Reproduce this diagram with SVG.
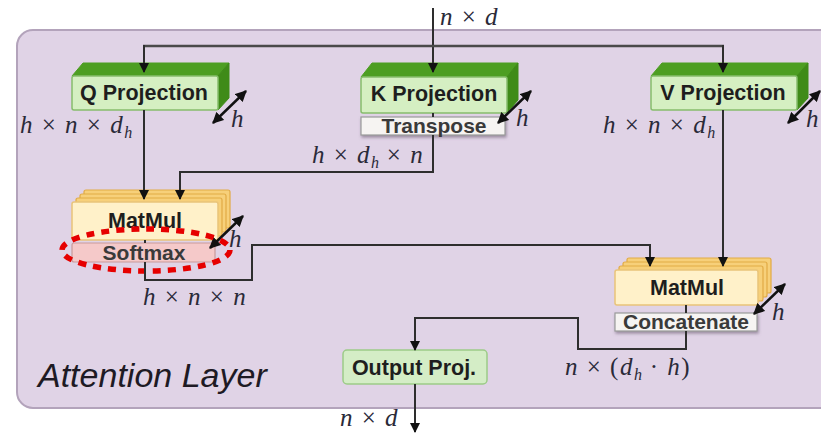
<svg xmlns="http://www.w3.org/2000/svg" width="821" height="433" viewBox="0 0 821 433">
  <defs>
    <marker id="tip" viewBox="0 0 10 10" refX="9" refY="5" markerWidth="11" markerHeight="10" orient="auto-start-reverse" markerUnits="userSpaceOnUse">
      <path d="M0,0 L10,5 L0,10 Z" fill="#111"/>
    </marker>
    <marker id="tip2" viewBox="0 0 10 10" refX="9" refY="5" markerWidth="4.5" markerHeight="4.5" orient="auto-start-reverse">
      <path d="M0,0 L10,5 L0,10 Z" fill="#111"/>
    </marker>
    <filter id="shadow" x="-10%" y="-30%" width="120%" height="180%">
      <feDropShadow dx="1" dy="2" stdDeviation="1.5" flood-color="#6a5a70" flood-opacity="0.6"/>
    </filter>
  </defs>
  <style>
    .lbl { font-family: "Liberation Sans", Arial, sans-serif; font-weight: bold; font-size: 21.5px; fill: #1e1e1e; text-anchor: middle; }
    .sub { font-family: "Liberation Sans", Arial, sans-serif; font-weight: bold; font-size: 21px; fill: #3a3a3a; text-anchor: middle; }
    .math { font-family: "Liberation Serif", "Times New Roman", serif; font-style: italic; font-size: 25px; fill: #2a2a38; letter-spacing: 1.5px; }
    .up { font-style: normal; }
    .s { font-size: 16px; letter-spacing: 0; }
    .wire { fill: none; stroke: #2e2e2e; stroke-width: 2; }
    .dim { fill: none; stroke: #111; stroke-width: 2.5; marker-start: url(#tip2); marker-end: url(#tip2); }
    .gfront { fill: #d5efc2; stroke: #86bd6c; stroke-width: 1.5; }
    .gtop { fill: #4d9e22; stroke: #4d9e22; stroke-width: 1; }
    .gside { fill: #3f8b18; stroke: #3f8b18; stroke-width: 1; }
    .ylayer { fill: #f7d07a; stroke: #e2ab45; stroke-width: 1.2; }
    .yfront { fill: #fff1c9; stroke: #e9c479; stroke-width: 1.5; }
    .tag { fill: #f6f4f2; stroke: #9a9a9a; stroke-width: 1.2; }
  </style>

  <!-- layer container -->
  <rect x="17" y="30" width="822" height="378" rx="16" fill="#e0d3e6" stroke="#b3a3bb" stroke-width="2"/>
  <text x="38" y="387" font-family="'Liberation Sans', Arial, sans-serif" font-style="italic" font-size="34" fill="#1e1a24">Attention Layer</text>

  <!-- Q Projection -->
  <g id="q-proj">
    <polygon class="gtop" points="72,76 83,63 229,63 218,76"/>
    <polygon class="gside" points="218,76 229,63 229,98 218,110"/>
    <rect class="gfront" x="72" y="76" width="146" height="34" rx="2"/>
    <text class="lbl" x="144" y="100">Q Projection</text>
    <line class="dim" x1="213" y1="123" x2="246" y2="91"/>
    <text class="math" x="231" y="127">h</text>
  </g>

  <!-- K Projection with Transpose -->
  <g id="k-proj">
    <polygon class="gtop" points="361,77 372,63 518,63 507,77"/>
    <polygon class="gside" points="507,77 518,63 518,100 507,113"/>
    <rect class="gfront" x="361" y="77" width="146" height="36" rx="2"/>
    <text class="lbl" x="434" y="101">K Projection</text>
    <rect class="tag" x="361" y="117" width="144" height="18" filter="url(#shadow)"/>
    <text class="sub" x="434" y="133">Transpose</text>
    <line class="dim" x1="498" y1="123" x2="531" y2="91"/>
    <text class="math" x="516" y="126">h</text>
  </g>

  <!-- V Projection -->
  <g id="v-proj">
    <polygon class="gtop" points="651,76 662,63 808,63 797,76"/>
    <polygon class="gside" points="797,76 808,63 808,98 797,110"/>
    <rect class="gfront" x="651" y="76" width="146" height="34" rx="2"/>
    <text class="lbl" x="723" y="100">V Projection</text>
    <line class="dim" x1="788" y1="123" x2="820" y2="91"/>
    <text class="math" x="806" y="127">h</text>
  </g>

  <!-- MatMul + Softmax (scores) -->
  <g id="matmul-scores">
    <rect class="ylayer" x="84" y="190" width="146" height="38" rx="2"/>
    <rect class="ylayer" x="80" y="194" width="146" height="38" rx="2"/>
    <rect class="ylayer" x="76" y="198" width="146" height="38" rx="2"/>
    <rect class="yfront" x="72" y="202" width="146" height="38" rx="2"/>
    <text class="lbl" x="145" y="228">MatMul</text>
    <rect x="72" y="243" width="143" height="19" rx="2" fill="#f5c9c9" stroke="#c99a9a" stroke-width="1.2"/>
    <text class="sub" x="144" y="260" fill="#3a2626">Softmax</text>
    <line class="dim" x1="210" y1="248" x2="243" y2="216"/>
    <text class="math" x="229" y="247">h</text>
    <ellipse cx="146" cy="250" rx="84" ry="21" fill="none" stroke="#e60000" stroke-width="5.5" stroke-dasharray="8 7"/>
  </g>

  <!-- MatMul + Concatenate (values) -->
  <g id="matmul-values">
    <rect class="ylayer" x="627" y="258" width="144" height="35" rx="2"/>
    <rect class="ylayer" x="623" y="262" width="144" height="35" rx="2"/>
    <rect class="ylayer" x="619" y="266" width="144" height="35" rx="2"/>
    <rect class="yfront" x="615" y="270" width="143" height="35" rx="2"/>
    <text class="lbl" x="687" y="295">MatMul</text>
    <rect class="tag" x="615" y="313" width="142" height="18" filter="url(#shadow)"/>
    <text class="sub" x="686" y="329">Concatenate</text>
    <line class="dim" x1="754" y1="314" x2="785" y2="284"/>
    <text class="math" x="772" y="320">h</text>
  </g>

  <!-- Output projection -->
  <g id="out-proj">
    <rect x="343" y="350" width="144" height="34" rx="4" fill="#d4edc6" stroke="#9ccb88" stroke-width="1.5"/>
    <text class="lbl" x="414" y="375">Output Proj.</text>
  </g>

  <!-- connectors -->
  <g id="connectors">
    <path class="wire" d="M433,8 V72" marker-end="url(#tip)"/>
    <path d="M143,46 H724" fill="none" stroke="#4a4a4a" stroke-width="2.5"/>
    <path class="wire" d="M144,45 V72" marker-end="url(#tip)"/>
    <path class="wire" d="M723,45 V72" marker-end="url(#tip)"/>
    <path class="wire" d="M144,110 V199" marker-end="url(#tip)"/>
    <path class="wire" d="M433,113 V117"/>
    <path class="wire" d="M433,135 V172 H180 V199" marker-end="url(#tip)"/>
    <path class="wire" d="M145,240 V243"/>
    <path class="wire" d="M145,262 V280 H252 V245 H650 V266" marker-end="url(#tip)"/>
    <path class="wire" d="M723,110 V266" marker-end="url(#tip)"/>
    <path class="wire" d="M686,305 V313"/>
    <path class="wire" d="M686,331 V349 H578 V318 H415 V350" marker-end="url(#tip)"/>
    <path class="wire" d="M415,384 V432" marker-end="url(#tip)"/>
  </g>

  <!-- shape annotations -->
  <g id="dims">
    <text class="math" x="440" y="25">n <tspan class="up">×</tspan> d</text>
    <text class="math" x="20" y="133">h <tspan class="up">×</tspan> n <tspan class="up">×</tspan> d<tspan class="s" dy="5">h</tspan></text>
    <text class="math" x="603" y="133">h <tspan class="up">×</tspan> n <tspan class="up">×</tspan> d<tspan class="s" dy="5">h</tspan></text>
    <text class="math" x="312" y="163">h <tspan class="up">×</tspan> d<tspan class="s" dy="5">h</tspan><tspan dy="-5"> </tspan><tspan class="up">×</tspan> n</text>
    <text class="math" x="143" y="305">h <tspan class="up">×</tspan> n <tspan class="up">×</tspan> n</text>
    <text class="math" x="565" y="375">n <tspan class="up">× (</tspan>d<tspan class="s" dy="5">h</tspan><tspan class="up" dy="-5"> · </tspan>h<tspan class="up">)</tspan></text>
    <text class="math" x="340" y="426">n <tspan class="up">×</tspan> d</text>
  </g>
</svg>
